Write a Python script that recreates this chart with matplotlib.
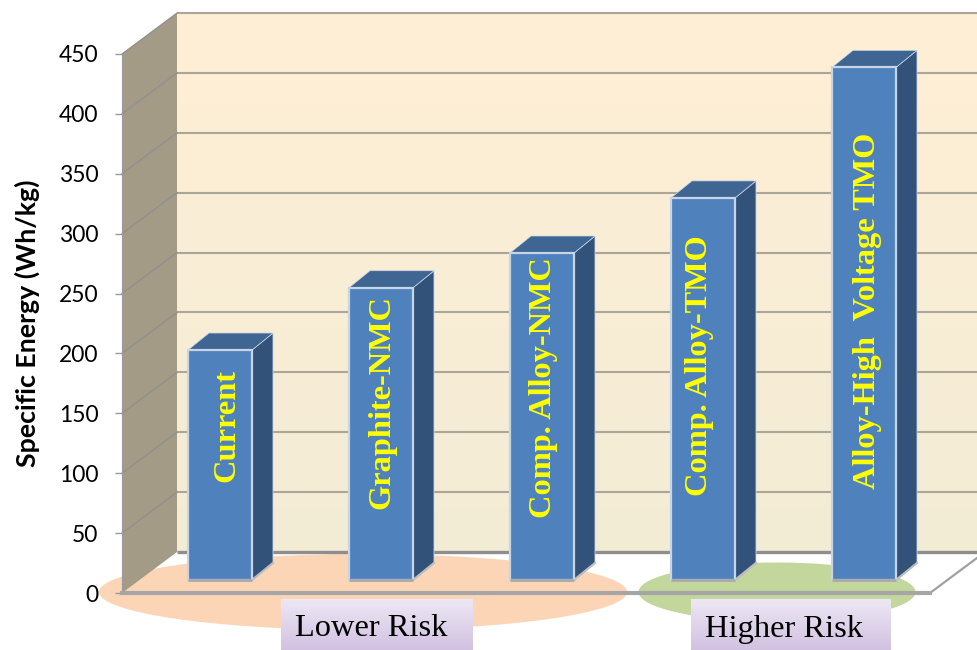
import numpy as np
import matplotlib
matplotlib.use("Agg")
import matplotlib.pyplot as plt
from matplotlib.colors import LinearSegmentedColormap
from matplotlib.patches import Ellipse

categories = ["Current", "Graphite-NMC", "Comp. Alloy-NMC", "Comp. Alloy-TMO", "Alloy-High  Voltage TMO"]
energy = [192, 244, 273, 319, 428]
y_ticks = [0, 50, 100, 150, 200, 250, 300, 350, 400, 450]

W, H = 977, 650
AX_L, AX_R, AX_TOP, AX_BOT = 122, 930, 54, 593
BAR0, BAR_STEP, BAR_W = 220, 161, 64


def px_x(p):
    return (p - BAR0) / BAR_STEP


def px_y(p):
    return (AX_BOT - p) * 450 / (AX_BOT - AX_TOP)


def gradient(ax, x0, x1, y0, y1, top, bottom, z):
    cmap = LinearSegmentedColormap.from_list("g", [top, bottom])
    im = ax.imshow(np.linspace(0, 1, 256).reshape(-1, 1), cmap=cmap, aspect="auto",
                   extent=(x0, x1, y0, y1), origin="upper", zorder=z)
    im.set_clip_on(False)


fig = plt.figure(figsize=(W / 100, H / 100), dpi=100)
ax = fig.add_axes([AX_L / W, 1 - AX_BOT / H, (AX_R - AX_L) / W, (AX_BOT - AX_TOP) / H])
ax.patch.set_alpha(0)

# offsets of the back wall and of the bars relative to the front plane
wall_dx = px_x(177) - px_x(122)
wall_dy = px_y(552)
lift = px_y(580)
side_dx = 21 / BAR_STEP
side_dy = px_y(593 - 17)
half = BAR_W / 2 / BAR_STEP
right_edge = px_x(W)

# risk ellipses on the floor
ax.add_patch(Ellipse((px_x(363), px_y(592)), 528 / BAR_STEP, px_y(592 - 75), color="#FBD5B5",
                     lw=0, zorder=1, clip_on=False))
ax.add_patch(Ellipse((px_x(777), px_y(592)), 277 / BAR_STEP, px_y(592 - 58), color="#C3D69B",
                     lw=0, zorder=1, clip_on=False))

# back wall, side wall, gridlines
x_left = px_x(AX_L)
gradient(ax, x_left + wall_dx, right_edge, wall_dy, 450 + wall_dy, "#FFEFD5", "#F3ECD6", 0.5)
ax.fill([x_left, x_left + wall_dx, x_left + wall_dx, x_left],
        [0, wall_dy, 450 + wall_dy, 450], color="#A49B86", lw=0, zorder=2, clip_on=False)
for t in y_ticks:
    c = "#8E8E8E" if t == 0 else "#ABA698"
    ax.plot([x_left + wall_dx, right_edge], [t + wall_dy, t + wall_dy], color=c,
            lw=2.4 if t == 0 else 1.5, zorder=1.5 if t else 2, clip_on=False, solid_capstyle="butt")
    if t:
        ax.plot([x_left, x_left + wall_dx], [t, t + wall_dy], color="#8F8F8F", lw=0.9, zorder=2.5,
                clip_on=False)

# right edge of the floor
ax.plot([px_x(AX_R), right_edge], [0, wall_dy * (W - AX_R) / 55], color="#A0A0A0", lw=1.6,
        zorder=2, clip_on=False)

# bars
x = np.arange(len(categories))
ax.bar(x, energy, width=BAR_W / BAR_STEP, bottom=lift, color="#4F81BD", edgecolor="#C8D5E6",
       linewidth=1.6, zorder=4)
for xi, v in zip(x, energy):
    r = xi + half
    l = xi - half
    top = v + lift
    ax.fill([r, r + side_dx, r + side_dx, r], [lift, lift + side_dy, top + side_dy, top],
            facecolor="#32527A", edgecolor="#C8D5E6", lw=0.6, zorder=3.5, clip_on=False)
    ax.fill([l, l + side_dx, r + side_dx, r], [top, top + side_dy, top + side_dy, top],
            facecolor="#3F6592", edgecolor="#C8D5E6", lw=0.5, zorder=3.5, clip_on=False)
    ax.plot([l, r], [lift, lift], color="#A9A9A9", lw=2, zorder=4.5, solid_capstyle="butt")
    ax.plot([r, r + side_dx], [lift, lift + side_dy], color="#BDBDBD", lw=1.6, zorder=3.6)

# labels inside the bars
label_y = [426, 402, 388, 366, 311]
label_x = [227, 382, 543, 699, 868]
for name, lx, ly in zip(categories, label_x, label_y):
    ax.text(px_x(lx), px_y(ly), name, rotation=90, ha="center", va="center", color="#FFFF00",
            fontsize=23.3, fontweight="bold", family="Liberation Serif", zorder=5)

# risk boxes below the axis
for text, x0, x1, tx in [("Lower Risk", 281, 473, 371), ("Higher Risk", 691, 891, 784)]:
    gradient(ax, px_x(x0), px_x(x1), px_y(H), px_y(600), "#EDE8F4", "#D2C1E1", 6)
    ax.text(px_x(tx), px_y(629), text, ha="center", va="center", color="black", fontsize=23.4,
            family="Liberation Serif", zorder=7)

ax.set_xlim(px_x(AX_L), px_x(AX_R))
ax.set_ylim(0, 450)
ax.set_xticks([])
ax.set_yticks(y_ticks)
ax.tick_params(axis="y", length=5, width=1, color="#999999", pad=12, labelsize=16.5)
for lab in ax.get_yticklabels():
    lab.set_family("Lato")
for side in ["top", "right"]:
    ax.spines[side].set_visible(False)
ax.spines["left"].set_color("#999999")
ax.spines["bottom"].set_color("#A6A6A6")
ax.spines["bottom"].set_linewidth(3)
ax.spines["left"].set_zorder(3)
ax.spines["bottom"].set_zorder(3)
ax.set_axisbelow(False)
ax.set_ylabel("Specific Energy (Wh/kg)", fontsize=19.3, fontweight="bold", family="Lato", va="center")
ax.yaxis.set_label_coords((27 - AX_L) / (AX_R - AX_L), 0.5)

fig.savefig("out.png", dpi=100)
